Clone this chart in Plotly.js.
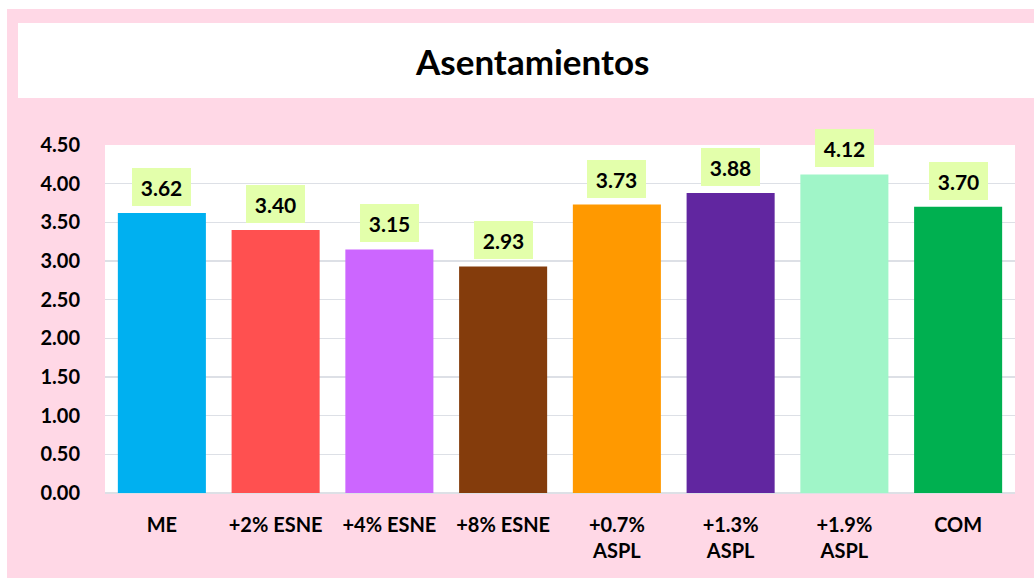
<!DOCTYPE html>
<html>
<head>
<meta charset="utf-8">
<script src="https://cdn.plot.ly/plotly-3.0.1.min.js"></script>
<style>html,body{margin:0;padding:0;background:#fff;}#chart{width:1034px;height:578px;}</style>
</head>
<body>
<div id="chart"></div>
<script>
const categories = ["ME", "+2% ESNE", "+4% ESNE", "+8% ESNE", "+0.7%<br>ASPL", "+1.3%<br>ASPL", "+1.9%<br>ASPL", "COM"];
const values = [3.62, 3.40, 3.15, 2.93, 3.73, 3.88, 4.12, 3.70];
const barColors = ["#00B0F0", "#FF5050", "#CC66FF", "#843C0C", "#FF9900", "#6126A0", "#A0F5C8", "#00B050"];
const yTicks = [0, 0.5, 1, 1.5, 2, 2.5, 3, 3.5, 4, 4.5];
const titleText = "Asentamientos";

const W = 1034, H = 578;
const ml = 105, mr = 19, mt = 145, mb = 85;
const pw = W - ml - mr, ph = H - mt - mb;
const px = v => (v - ml) / pw;
const py = v => (H - mb - v) / ph;

const FONT = "Lato, 'Open Sans', sans-serif";
const PINK = "#FFD8E6";

const trace = {
  type: "bar",
  x: categories,
  y: values,
  marker: { color: barColors, line: { width: 0 } },
  hoverinfo: "x+y"
};

const annotations = values.map((v, i) => ({
  x: categories[i], y: v, xref: "x", yref: "y",
  text: v.toFixed(2), showarrow: false,
  yanchor: "bottom", xanchor: "center", yshift: 7,
  bgcolor: "#E3FFAB", borderwidth: 0, borderpad: 7,
  width: 45, height: 24,
  font: { family: FONT, size: 21, color: "#000", weight: "bold" }
}));

annotations.push({
  xref: "paper", yref: "paper",
  x: px(532), y: py(61),
  text: "<b>" + titleText + "</b>", showarrow: false,
  xanchor: "center", yanchor: "middle",
  font: { family: FONT, size: 35, color: "#000" }
});

const shapes = [
  { type: "rect", xref: "paper", yref: "paper", layer: "below",
    x0: -1, x1: 2, y0: py(9), y1: 3, fillcolor: "#FFFFFF", line: { width: 0 } },
  { type: "rect", xref: "paper", yref: "paper", layer: "below",
    x0: -1, x1: px(7), y0: -1, y1: 3, fillcolor: "#FFFFFF", line: { width: 0 } },
  { type: "rect", xref: "paper", yref: "paper", layer: "below",
    x0: px(18), x1: px(1040), y0: py(98), y1: py(23), fillcolor: "#FFFFFF", line: { width: 0 } }
];

const layout = {
  width: W, height: H,
  margin: { l: ml, r: mr, t: mt, b: mb, pad: 0 },
  paper_bgcolor: PINK,
  plot_bgcolor: "#FFFFFF",
  bargap: 0.226,
  showlegend: false,
  font: { family: FONT, color: "#000" },
  xaxis: {
    type: "category",
    tickfont: { family: FONT, size: 20, color: "#000", weight: "bold" },
    ticks: "outside", ticklen: 14, tickcolor: "rgba(0,0,0,0)",
    showgrid: false, showline: false, zeroline: false,
    fixedrange: true
  },
  yaxis: {
    range: [0, 4.5],
    tickvals: yTicks,
    ticktext: yTicks.map(t => t.toFixed(2)),
    tickfont: { family: FONT, size: 20, color: "#000", weight: "bold" },
    ticks: "outside", ticklen: 20, tickcolor: "rgba(0,0,0,0)",
    showgrid: true, gridcolor: "#DDE0E6", gridwidth: 1.5,
    zeroline: true, zerolinecolor: "#DDE0E6", zerolinewidth: 2,
    showline: false, fixedrange: true
  },
  annotations: annotations,
  shapes: shapes
};

Plotly.newPlot("chart", [trace], layout, { displayModeBar: false, staticPlot: true });
</script>
</body>
</html>
